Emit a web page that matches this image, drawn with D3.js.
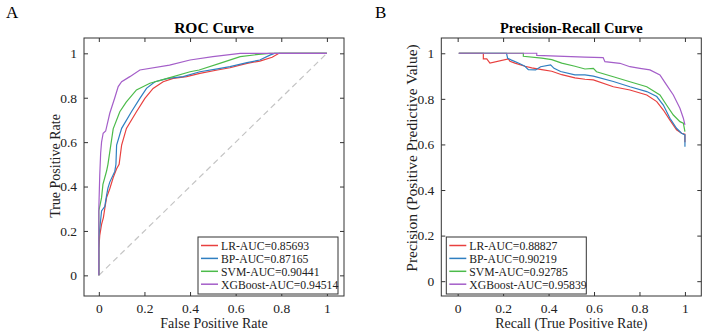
<!DOCTYPE html>
<html>
<head>
<meta charset="utf-8">
<script src="https://cdn.jsdelivr.net/npm/d3@7"></script>
<style>
    body { margin: 0; background: #fff; }
    svg { font-family: "Liberation Serif", "Times New Roman", serif; }
</style>
</head>
<body>
<div id="chart"></div>
<script>
// ROC points [false positive rate, true positive rate]
const rocLR = [[0,0],[0,0.12],[0.004,0.18],[0.012,0.23],[0.02,0.26],[0.026,0.30],[0.034,0.35],[0.048,0.39],[0.063,0.44],[0.078,0.48],[0.089,0.50],[0.1,0.587],[0.121,0.662],[0.165,0.737],[0.202,0.797],[0.238,0.842],[0.282,0.872],[0.326,0.887],[0.385,0.895],[0.443,0.91],[0.52,0.925],[0.575,0.935],[0.65,0.955],[0.706,0.965],[0.76,0.982],[0.79,1],[1,1]];
const rocBP = [[0,0],[0,0.17],[0.004,0.21],[0.012,0.29],[0.026,0.31],[0.034,0.36],[0.04,0.393],[0.048,0.42],[0.07,0.468],[0.075,0.5],[0.078,0.587],[0.1,0.662],[0.143,0.737],[0.18,0.797],[0.209,0.842],[0.246,0.872],[0.304,0.887],[0.37,0.895],[0.443,0.917],[0.52,0.93],[0.575,0.94],[0.65,0.958],[0.706,0.97],[0.75,0.992],[0.77,1],[1,1]];
const rocSVM = [[0,0],[0,0.29],[0.012,0.35],[0.018,0.41],[0.034,0.47],[0.04,0.5],[0.063,0.66],[0.092,0.737],[0.12,0.78],[0.165,0.835],[0.224,0.865],[0.3,0.887],[0.4,0.917],[0.44,0.925],[0.53,0.955],[0.62,0.985],[0.7,0.995],[0.75,1],[1,1]];
const rocXGB = [[0,0],[0,0.3],[0.004,0.45],[0.008,0.55],[0.012,0.6],[0.019,0.64],[0.03,0.65],[0.048,0.73],[0.07,0.8],[0.085,0.85],[0.1,0.872],[0.136,0.895],[0.18,0.925],[0.31,0.947],[0.4,0.97],[0.5,0.985],[0.62,1],[1,1]];

// PR points [recall, precision]
const prLR = [[0.005,1],[0.113,1],[0.113,0.975],[0.128,0.975],[0.142,0.957],[0.223,0.975],[0.23,0.965],[0.252,0.957],[0.296,0.943],[0.326,0.936],[0.37,0.928],[0.414,0.921],[0.458,0.906],[0.516,0.892],[0.56,0.886],[0.597,0.883],[0.685,0.853],[0.758,0.839],[0.832,0.817],[0.876,0.788],[0.905,0.751],[0.934,0.707],[0.963,0.664],[0.985,0.649],[1,0.645],[1,0.61]];
const prBP = [[0.005,1],[0.215,1],[0.22,0.978],[0.237,0.97],[0.267,0.957],[0.296,0.943],[0.311,0.928],[0.343,0.927],[0.365,0.941],[0.409,0.949],[0.424,0.934],[0.453,0.92],[0.516,0.905],[0.56,0.905],[0.597,0.9],[0.685,0.876],[0.758,0.853],[0.832,0.832],[0.876,0.81],[0.905,0.773],[0.934,0.715],[0.963,0.671],[0.985,0.649],[1,0.642],[1,0.59]];
const prSVM = [[0.005,1],[0.289,1],[0.289,0.987],[0.37,0.979],[0.414,0.972],[0.458,0.957],[0.516,0.943],[0.56,0.931],[0.597,0.934],[0.611,0.919],[0.685,0.897],[0.758,0.875],[0.832,0.853],[0.89,0.817],[0.919,0.773],[0.949,0.729],[0.978,0.7],[0.993,0.693],[1,0.656]];
const prXGB = [[0.005,1],[0.348,1],[0.348,0.991],[0.56,0.983],[0.64,0.981],[0.648,0.963],[0.714,0.956],[0.758,0.941],[0.802,0.934],[0.846,0.927],[0.89,0.905],[0.919,0.861],[0.949,0.817],[0.978,0.759],[0.993,0.715],[1,0.686]];

const models = ["LR", "BP", "SVM", "XGBoost"];
const rocAUC = ["0.85693", "0.87165", "0.90441", "0.94514"];
const prAUC = ["0.88827", "0.90219", "0.92785", "0.95839"];
const colors = ["#e8403f", "#2f7fc1", "#4cbb4a", "#a45ec9"];
const tickValues = [0, 0.2, 0.4, 0.6, 0.8, 1];

const svg = d3.select("#chart")
    .append("svg")
    .attr("width", 708)
    .attr("height", 336);

function drawPanel(cfg) {
    const x = d3.scaleLinear().domain(cfg.xDomain).range([cfg.left, cfg.right]);
    const y = d3.scaleLinear().domain(cfg.yDomain).range([cfg.bottom, cfg.top]);
    const fmt = d => String(+d.toFixed(1));

    const g = svg.append("g");

    // diagonal reference line (ROC only)
    if (cfg.diagonal) {
        g.append("line")
            .attr("x1", x(0)).attr("y1", y(0))
            .attr("x2", x(1)).attr("y2", y(1))
            .attr("stroke", "#c4c4c4")
            .attr("stroke-width", 1.2)
            .attr("stroke-dasharray", "6,4");
    }

    const line = d3.line().x(d => x(d[0])).y(d => y(d[1]));
    cfg.series.forEach((s, i) => {
        g.append("path")
            .datum(s)
            .attr("fill", "none")
            .attr("stroke", colors[i])
            .attr("stroke-width", 1.2)
            .attr("d", line);
    });

    // axes with inward ticks on all four sides
    const axes = [
        [d3.axisBottom(x), `translate(0,${cfg.bottom})`, true],
        [d3.axisTop(x), `translate(0,${cfg.top})`, false],
        [d3.axisLeft(y), `translate(${cfg.left},0)`, true],
        [d3.axisRight(y), `translate(${cfg.right},0)`, false]
    ];
    axes.forEach(([ax, tr, labels]) => {
        const a = g.append("g")
            .attr("transform", tr)
            .call(ax.tickValues(tickValues).tickSize(-4).tickPadding(7)
                .tickFormat(labels ? fmt : ""));
        a.select(".domain").remove();
        a.selectAll("line").attr("stroke", "#333");
        a.selectAll("text")
            .attr("fill", "#222")
            .style("font-size", "13.5px")
            .style("font-family", "Liberation Serif, serif");
    });

    g.append("rect")
        .attr("x", cfg.left).attr("y", cfg.top)
        .attr("width", cfg.right - cfg.left)
        .attr("height", cfg.bottom - cfg.top)
        .attr("fill", "none")
        .attr("stroke", "#333")
        .attr("stroke-width", 1);

    // title and axis labels
    g.append("text")
        .attr("x", (cfg.left + cfg.right) / 2)
        .attr("y", 33)
        .attr("text-anchor", "middle")
        .style("font-size", cfg.titleSize)
        .style("font-weight", "bold")
        .text(cfg.title);

    g.append("text")
        .attr("x", (cfg.left + cfg.right) / 2)
        .attr("y", 328)
        .attr("text-anchor", "middle")
        .style("font-size", "14px")
        .attr("fill", "#222")
        .text(cfg.xLabel);

    g.append("text")
        .attr("transform", `translate(${cfg.yLabelX},${cfg.yLabelY}) rotate(-90)`)
        .attr("text-anchor", "middle")
        .style("font-size", cfg.yLabelSize)
        .attr("fill", "#222")
        .text(cfg.yLabel);

    g.append("text")
        .attr("x", cfg.letterX)
        .attr("y", 18)
        .style("font-size", "17px")
        .text(cfg.letter);

    // legend
    const lg = g.append("g");
    lg.append("rect")
        .attr("x", cfg.legend.x).attr("y", 237)
        .attr("width", 140).attr("height", 57)
        .attr("fill", "#fff")
        .attr("stroke", "#333");
    cfg.aucs.forEach((auc, i) => {
        const cy = 245.5 + i * 12.9;
        lg.append("line")
            .attr("x1", cfg.legend.x + 3).attr("x2", cfg.legend.x + 20)
            .attr("y1", cy).attr("y2", cy)
            .attr("stroke", colors[i])
            .attr("stroke-width", 1.5);
        lg.append("text")
            .attr("x", cfg.legend.x + 23)
            .attr("y", cy + 4.3)
            .style("font-size", "11.7px")
            .attr("fill", "#222")
            .text(`${models[i]}-AUC=${auc}`);
    });
}

drawPanel({
    left: 84, right: 344, top: 38, bottom: 296,
    xDomain: [-0.065, 1.075], yDomain: [-0.093, 1.069],
    series: [rocLR, rocBP, rocSVM, rocXGB],
    diagonal: true,
    title: "ROC Curve", titleSize: "15.5px",
    xLabel: "False Positive Rate",
    yLabel: "True Positive Rate", yLabelSize: "14px",
    yLabelX: 60, yLabelY: 166,
    letter: "A", letterX: 6,
    aucs: rocAUC,
    legend: { x: 198 }
});

drawPanel({
    left: 441.3, right: 701.3, top: 38, bottom: 296,
    xDomain: [-0.072, 1.072], yDomain: [-0.065, 1.067],
    series: [prLR, prBP, prSVM, prXGB],
    diagonal: false,
    title: "Precision-Recall Curve", titleSize: "14.5px",
    xLabel: "Recall (True Positive Rate)",
    yLabel: "Precision (Positive Predictive Value)", yLabelSize: "15.5px",
    yLabelX: 417, yLabelY: 158,
    letter: "B", letterX: 375,
    aucs: prAUC,
    legend: { x: 446.3 }
});
</script>
</body>
</html>
